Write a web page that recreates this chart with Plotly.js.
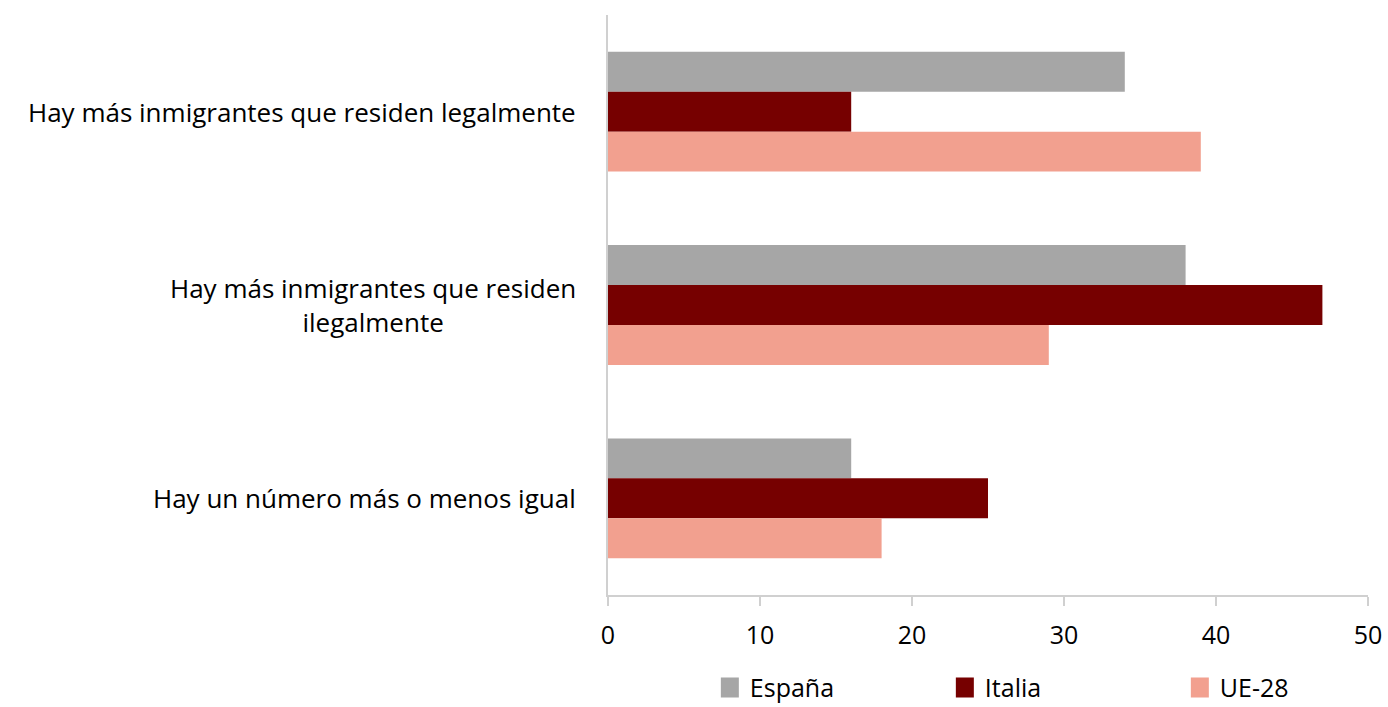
<!DOCTYPE html>
<html>
<head>
<meta charset="utf-8">
<script src="https://cdn.plot.ly/plotly-3.0.1.min.js"></script>
<style>html,body{margin:0;padding:0;background:#fff;}#chart{width:1388px;height:707px;}</style>
</head>
<body>
<div id="chart"></div>
<script>
const categories = [
  "Hay más inmigrantes que residen legalmente",
  "Hay más inmigrantes que residen<br>ilegalmente",
  "Hay un número más o menos igual"
];
const seriesNames = ["España", "Italia", "UE-28"];
const espana = [34, 38, 16];
const italia = [16, 47, 25];
const ue28 = [39, 29, 18];
const xTicks = [0, 10, 20, 30, 40, 50];

const colors = ["#a6a6a6", "#760000", "#f2a08f"];
const values = [espana, italia, ue28];
const FONT = "'Open Sans', Lato, sans-serif";

const traces = values.map((v, i) => ({
  type: "bar",
  orientation: "h",
  name: seriesNames[i],
  x: v,
  y: categories,
  marker: {color: colors[i]},
  hoverinfo: "x+name"
}));

const annotations = categories.map(c => ({
  xref: "paper", yref: "y",
  x: -0.039, y: c,
  xanchor: "right", yanchor: "middle",
  align: "center",
  text: c,
  showarrow: false,
  font: {family: FONT, size: 26, color: "#000"}
}));

const layout = {
  width: 1388, height: 707,
  margin: {l: 608, r: 20, t: 15, b: 112, autoexpand: false},
  paper_bgcolor: "#fff", plot_bgcolor: "#fff",
  barmode: "group",
  bargap: 0.38,
  bargroupgap: 0,
  showlegend: true,
  legend: {
    orientation: "h",
    x: 0.134, xanchor: "left",
    y: -0.16, yanchor: "middle",
    font: {family: FONT, size: 25, color: "#000"},
    entrywidth: 190,
    itemwidth: 30,
    tracegroupgap: 0
  },
  xaxis: {
    range: [0, 50],
    tickvals: xTicks,
    ticktext: xTicks.map(String),
    showgrid: false,
    zeroline: false,
    showline: true,
    linecolor: "#d0d0d0",
    linewidth: 2,
    ticks: "outside",
    ticklen: 9,
    tickwidth: 2,
    tickcolor: "#d0d0d0",
    ticklabelstandoff: 8,
    tickfont: {family: FONT, size: 25, color: "#000"},
    fixedrange: true
  },
  yaxis: {
    type: "category",
    autorange: "reversed",
    showticklabels: false,
    showgrid: false,
    zeroline: false,
    showline: true,
    linecolor: "#d0d0d0",
    linewidth: 2,
    ticks: "",
    fixedrange: true
  },
  annotations: annotations
};

Plotly.newPlot("chart", traces, layout, {displayModeBar: false, staticPlot: true}).then(gd => {
  // enlarge legend swatches to match the reference's larger squares
  gd.querySelectorAll(".legend .legendpoints path").forEach(p => {
    p.setAttribute("d", "M9,10H-9V-10H9Z");
  });
});
</script>
</body>
</html>
